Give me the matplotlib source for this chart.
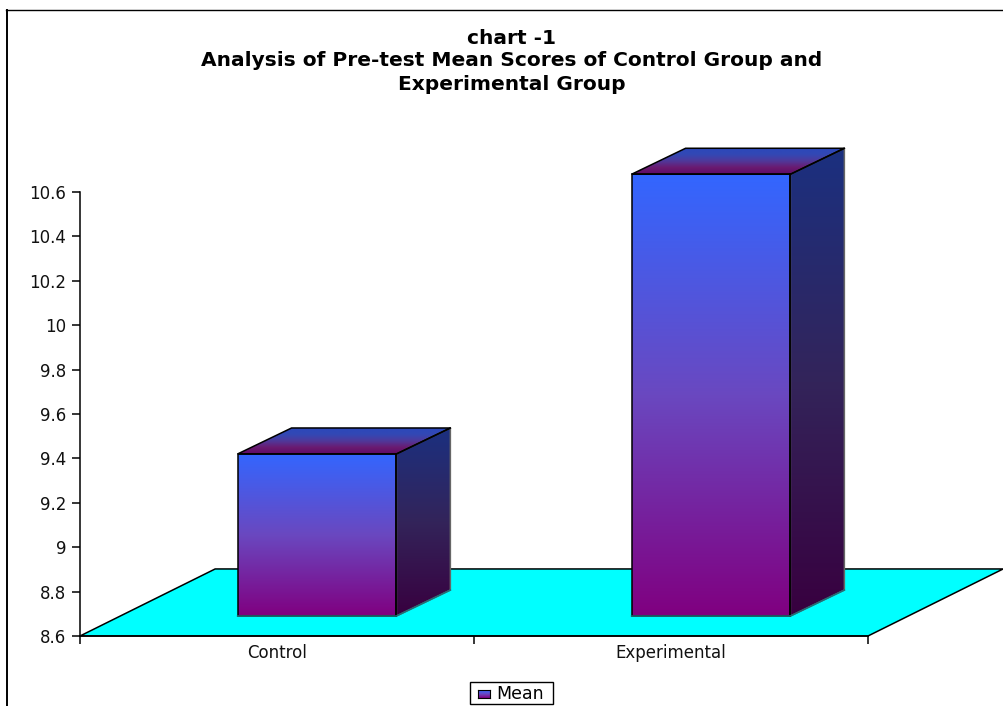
import matplotlib
matplotlib.use('Agg')
import matplotlib.pyplot as plt
import numpy as np
from matplotlib.colors import LinearSegmentedColormap
from matplotlib.lines import Line2D
from matplotlib.patches import Polygon, Rectangle

groups = ['Control', 'Experimental']
means = [9.33, 10.59]
y_ticks = [8.6, 8.8, 9.0, 9.2, 9.4, 9.6, 9.8, 10.0, 10.2, 10.4, 10.6]
y_tick_labels = ['8.6', '8.8', '9', '9.2', '9.4', '9.6', '9.8', '10', '10.2', '10.4', '10.6']
title_lines = ['chart -1',
               'Analysis of Pre-test Mean Scores of Control Group and',
               'Experimental Group']

YMIN = 8.6
BAR_W = 0.403
# fake 3d depth, in data units
FLOOR_DX, FLOOR_DY = 0.343, 0.302
NEAR_DX, NEAR_DY = 0.1015, 0.09
BAR_DX, BAR_DY = 0.137, 0.117

plt.rcParams['font.family'] = ['DejaVu Sans']

front_cmap = LinearSegmentedColormap.from_list('front', ['#800080', '#6a48c0', '#3366ff'])
side_cmap = LinearSegmentedColormap.from_list('side', ['#38003f', '#33245a', '#1b3080'])
top_cmap = LinearSegmentedColormap.from_list('top', ['#600a66', '#6a1a70', '#50389a', '#3348b4', '#2c48bc'])

fig = plt.figure(figsize=(10.04, 7.06), dpi=100)
ax = fig.add_axes([80 / 1004, 70 / 706, 788 / 1004, 444 / 706])


def shade(points, cmap):
    # vertical gradient cut to the shape of one box face
    pts = np.array(points)
    poly = Polygon(pts, closed=True, transform=ax.transData)
    ramp = np.linspace(0, 1, 256).reshape(-1, 1)
    im = ax.imshow(ramp, cmap=cmap, origin='lower', aspect='auto', zorder=3,
                   extent=[pts[:, 0].min(), pts[:, 0].max(), pts[:, 1].min(), pts[:, 1].max()])
    im.set_clip_box(fig.bbox)
    im.set_clip_path(poly)


def outline(points, color='black', lw=1.1):
    ax.add_patch(Polygon(points, closed=True, fill=False, edgecolor=color,
                         linewidth=lw, zorder=4, clip_on=False))


def draw_box(center, value):
    x0 = center - BAR_W / 2 + NEAR_DX
    x1 = center + BAR_W / 2 + NEAR_DX
    y0 = YMIN + NEAR_DY
    y1 = value + NEAR_DY
    front = [(x0, y0), (x1, y0), (x1, y1), (x0, y1)]
    side = [(x1, y0), (x1 + BAR_DX, y0 + BAR_DY), (x1 + BAR_DX, y1 + BAR_DY), (x1, y1)]
    top = [(x0, y1), (x1, y1), (x1 + BAR_DX, y1 + BAR_DY), (x0 + BAR_DX, y1 + BAR_DY)]
    shade(front, front_cmap)
    shade(side, side_cmap)
    shade(top, top_cmap)
    outline(side, color='#666666')
    outline(top)
    outline(front)
    ax.plot([x1, x1], [y0, y1], color='black', lw=1.1, zorder=5, clip_on=False)
    ax.plot([x1, x1 + BAR_DX], [y1, y1 + BAR_DY], color='black', lw=1.1, zorder=5, clip_on=False)
    ax.plot([x0, x1, x1 + BAR_DX], [y0, y0, y0 + BAR_DY], color='#1f6f78', lw=1.1,
            zorder=5, clip_on=False)


# floor of the chart
ax.add_patch(Polygon([(0, YMIN), (2, YMIN), (2 + FLOOR_DX, YMIN + FLOOR_DY), (FLOOR_DX, YMIN + FLOOR_DY)],
                     closed=True, facecolor='#00ffff', edgecolor='black', linewidth=1.1,
                     zorder=2, clip_on=False))

for i, m in enumerate(means):
    draw_box(i + 0.5, m)

ax.set_xlim(0, 2)
ax.set_ylim(YMIN, 10.6)
ax.patch.set_visible(False)
for s in ['top', 'right']:
    ax.spines[s].set_visible(False)
ax.spines['left'].set_linewidth(1.1)
ax.spines['bottom'].set_linewidth(1.1)

ax.set_yticks(y_ticks)
ax.set_yticklabels(y_tick_labels, fontsize=12, color='#111111')
ax.set_xticks([0, 1, 2])
ax.set_xticklabels([])
ax.set_xticks([0.5, 1.5], groups, minor=True, fontsize=12, color='#111111')
ax.tick_params(axis='x', which='minor', length=0, pad=6)
ax.tick_params(axis='both', which='major', length=6, width=1.1)
ax.tick_params(axis='y', pad=4)

# title lines are not evenly spaced
for line, ypx in zip(title_lines, [38, 60, 85]):
    fig.text(512 / 1004, 1 - ypx / 706, line, ha='center', va='center',
             fontsize=14.5, fontweight='bold')

# legend box runs into the lower edge
fig.add_artist(Rectangle((470 / 1004, 1 - 704 / 706), 83 / 1004, 22 / 706, transform=fig.transFigure,
                         facecolor='white', edgecolor='black', linewidth=1.0))
lax = fig.add_axes([478 / 1004, 1 - 698 / 706, 12 / 1004, 8 / 706], zorder=5)
lax.imshow(np.linspace(0, 1, 32).reshape(-1, 1), cmap=front_cmap, origin='lower', aspect='auto')
lax.set_xticks([])
lax.set_yticks([])
fig.text(496 / 1004, 1 - 694 / 706, 'Mean', ha='left', va='center', fontsize=12.5, zorder=5)

# frame around the whole chart
fig.add_artist(Line2D([6.5 / 1004, 6.5 / 1004], [0, 1 - 9.5 / 706], color='black', linewidth=1.4))
fig.add_artist(Line2D([6 / 1004, 1], [1 - 9.5 / 706, 1 - 9.5 / 706], color='black', linewidth=1.0))

fig.savefig('out.png', dpi=100)
